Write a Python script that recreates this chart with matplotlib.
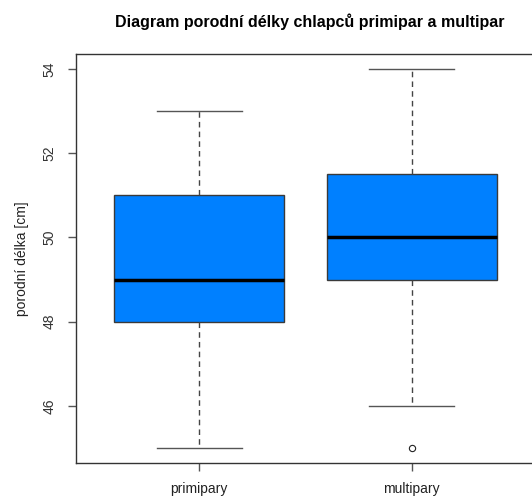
import matplotlib
matplotlib.use("Agg")
import matplotlib.pyplot as plt

categories = ["primipary", "multipary"]
whislo = [45, 46]
q1 = [48, 49]
med = [49, 50]
q3 = [51, 51.5]
whishi = [53, 54]
fliers = [[], [45]]
yticks = [46, 48, 50, 52, 54]

plt.rcParams['font.family'] = ['Liberation Sans', 'DejaVu Sans']

fig = plt.figure(figsize=(5.32, 4.98), dpi=100)
W, H = 532, 498
left, right, top, bottom = 76, 535, 54, 463
ax = fig.add_axes([left / W, 1 - bottom / H, (right - left) / W, (bottom - top) / H])

stats = []
for i, c in enumerate(categories):
    stats.append(dict(label=c, whislo=whislo[i], q1=q1[i], med=med[i], q3=q3[i],
                      whishi=whishi[i], fliers=fliers[i]))

ax.bxp(stats, positions=[1, 2], widths=0.8, patch_artist=True,
       boxprops=dict(facecolor='#0080FF', edgecolor='#3a3a3a', linewidth=1.0),
       medianprops=dict(color='black', linewidth=2.5),
       whiskerprops=dict(color='#444444', linestyle=(0, (4, 3)), linewidth=1.0),
       capprops=dict(color='#555555', linewidth=1.0),
       capwidths=0.4,
       flierprops=dict(marker='o', markerfacecolor='white', markeredgecolor='#222222',
                       markersize=4.5, markeredgewidth=0.8))

ax.set_xlim(0.42, 2.58)
ax.set_ylim(44.64, 54.36)
ax.set_yticks(yticks)
ax.set_yticklabels([str(t) for t in yticks], rotation=90, va='center', fontsize=10, color='#333333')
ax.set_xticks([1, 2])
ax.set_xticklabels(categories, fontsize=10, color='#222222')
ax.tick_params(axis='both', length=6, width=1, color='#555555', pad=8)
for s in ['left', 'bottom', 'top', 'right']:
    ax.spines[s].set_color('#333333')
    ax.spines[s].set_linewidth(1.0)

ax.set_ylabel("porodní délka [cm]", fontsize=10, color='#222222', labelpad=10)
fig.text(310 / W, 1 - 22 / H, "Diagram porodní délky chlapců primipar a multipar",
         ha='center', va='center', fontsize=11.5, fontweight='bold')

fig.savefig("out.png", dpi=100)
